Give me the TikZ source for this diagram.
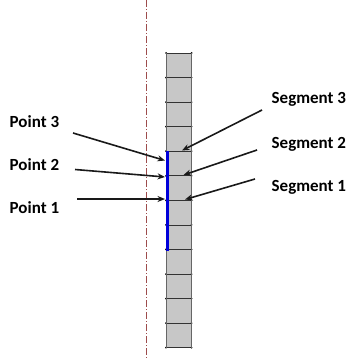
\documentclass[tikz,border=0pt]{standalone}
\usepackage{fontspec}
\setmainfont{Carlito}
\usetikzlibrary{arrows.meta}
\begin{document}
\begin{tikzpicture}[x=1pt,y=-1pt,
  lbl/.style={font=\fontsize{17}{20}\selectfont\bfseries, inner sep=0pt, anchor=west, text=black},
  arr/.style={draw=black!90, line width=1.6pt, -{Stealth[length=7.5pt,width=6pt]}},
  cell/.style={draw=black!80, line width=0.8pt},
  axis/.style={draw=red!45!black!70, line width=0.6pt, dash pattern=on 7pt off 2pt on 1pt off 2pt}]
\useasboundingbox (0,0) rectangle (350,358);
% symmetry axis
\coordinate (axT) at (146.7,0);
\coordinate (axB) at (146.7,358);
\draw[axis] (axT) -- (axB);
% column
\coordinate (cTL) at (166,53);
\coordinate (cBR) at (191.5,347.7);
\fill[black!22] (cTL) rectangle (cBR);
\foreach \i in {0,...,12}{
  \pgfmathsetmacro{\yy}{53+\i*24.56}
  \draw[cell] (166,\yy) -- (191.5,\yy);
  \fill[black] (166,\yy) circle (1pt) (191.5,\yy) circle (1pt);
}
\draw[draw=black!60, line width=0.8pt] (166,53) -- (166,347.7) (191.5,53) -- (191.5,347.7);
% blue segments
\coordinate (bT) at (167,151.2);
\coordinate (bB) at (167,251.2);
\draw[blue!85!black, line width=3pt] (bT) -- (bB);
% labels
\node[lbl] (pt3) at (9.5,122) {Point 3};
\node[lbl] (pt2) at (9.5,165) {Point 2};
\node[lbl] (pt1) at (9.5,207.5) {Point 1};
\node[lbl] (sg3) at (271.5,99) {Segment 3};
\node[lbl] (sg2) at (271.5,144) {Segment 2};
\node[lbl] (sg1) at (271.5,187.5) {Segment 1};
% arrow coordinates
\coordinate (p3s) at (73,133);
\coordinate (p3e) at (165,160.5);
\coordinate (p2s) at (75,169.5);
\coordinate (p2e) at (165,177);
\coordinate (p1s) at (77,199);
\coordinate (p1e) at (165,199);
\coordinate (s3s) at (262,110);
\coordinate (s3e) at (182,150.5);
\coordinate (s2s) at (257,150);
\coordinate (s2e) at (183.5,175);
\coordinate (s1s) at (255,179);
\coordinate (s1e) at (185,199.5);
\draw[arr] (p3s) -- (p3e);
\draw[arr] (p2s) -- (p2e);
\draw[arr] (p1s) -- (p1e);
\draw[arr] (s3s) -- (s3e);
\draw[arr] (s2s) -- (s2e);
\draw[arr] (s1s) -- (s1e);
\end{tikzpicture}
\end{document}
